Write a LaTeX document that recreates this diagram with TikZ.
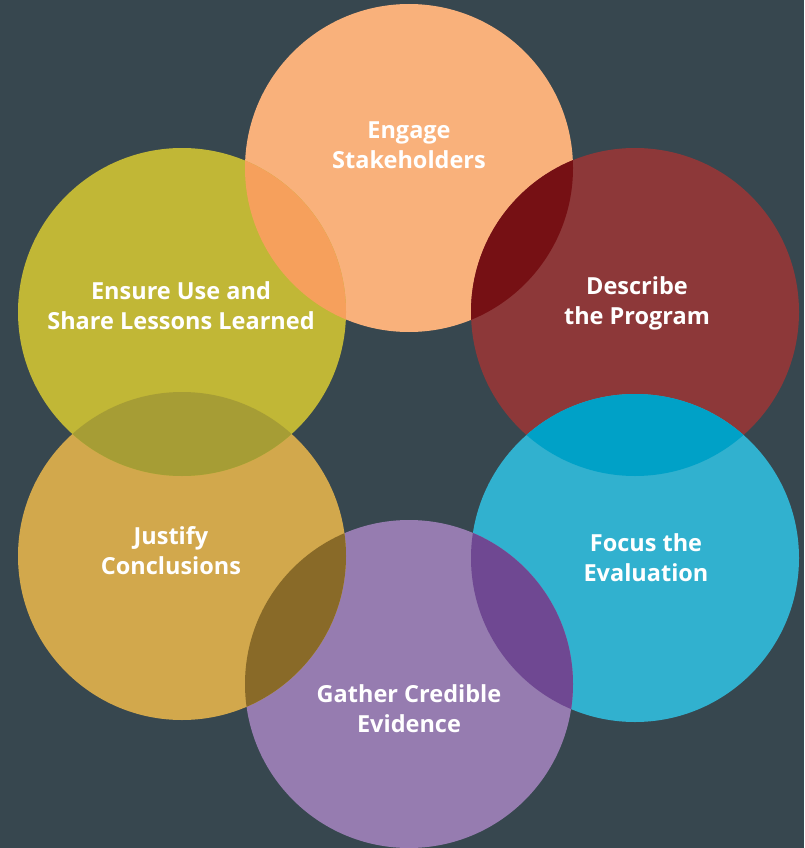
\documentclass[tikz,border=0pt]{standalone}
\usepackage{fontspec}
\setmainfont{Open Sans}
\definecolor{bg}{HTML}{37474F}
\definecolor{cOrange}{HTML}{F9B17B}
\definecolor{cRed}{HTML}{8D3839}
\definecolor{cCyan}{HTML}{31B1CF}
\definecolor{cPurple}{HTML}{967CB0}
\definecolor{cGold}{HTML}{D2A84C}
\definecolor{cOlive}{HTML}{C1B736}
\definecolor{oOrangeOlive}{HTML}{F6A05C}
\definecolor{oOrangeRed}{HTML}{761014}
\definecolor{oRedCyan}{HTML}{00A1C7}
\definecolor{oCyanPurple}{HTML}{6F4892}
\definecolor{oPurpleGold}{HTML}{896A28}
\definecolor{oGoldOlive}{HTML}{A69D35}
\tikzset{
  disc/.style={circle, inner sep=0pt, minimum size=328pt, fill=#1},
  label/.style={text=white, align=center, font=\fontsize{23.5}{30}\selectfont\bfseries, inner sep=0pt}
}
\begin{document}
\begin{tikzpicture}[x=1pt,y=-1pt]
\fill[bg] (0,0) rectangle (804,848);
\useasboundingbox (0,0) rectangle (804,848);
\coordinate (pE) at (409,168);
\coordinate (pD) at (635,312);
\coordinate (pF) at (635,558);
\coordinate (pG) at (409,684);
\coordinate (pJ) at (182,556);
\coordinate (pU) at (182,312);
\node[disc=cOrange] (cE) at (pE) {};
\node[disc=cRed] (cD) at (pD) {};
\node[disc=cCyan] (cF) at (pF) {};
\node[disc=cPurple] (cG) at (pG) {};
\node[disc=cGold] (cJ) at (pJ) {};
\node[disc=cOlive] (cU) at (pU) {};
\begin{scope}\clip (pE) circle[radius=164pt]; \fill[oOrangeOlive] (pU) circle[radius=164pt];\end{scope}
\begin{scope}\clip (pE) circle[radius=164pt]; \fill[oOrangeRed] (pD) circle[radius=164pt];\end{scope}
\begin{scope}\clip (pD) circle[radius=164pt]; \fill[oRedCyan] (pF) circle[radius=164pt];\end{scope}
\begin{scope}\clip (pF) circle[radius=164pt]; \fill[oCyanPurple] (pG) circle[radius=164pt];\end{scope}
\begin{scope}\clip (pG) circle[radius=164pt]; \fill[oPurpleGold] (pJ) circle[radius=164pt];\end{scope}
\begin{scope}\clip (pJ) circle[radius=164pt]; \fill[oGoldOlive] (pU) circle[radius=164pt];\end{scope}
\node[label] (tE) at (409,145) {Engage\\Stakeholders};
\node[label] (tD) at (637,303) {Describe\\the Program};
\node[label] (tF) at (646,558) {Focus the\\Evaluation};
\node[label] (tG) at (409,709) {Gather Credible\\Evidence};
\node[label] (tJ) at (171,551) {Justify\\Conclusions};
\node[label] (tU) at (181,306) {Ensure Use and\\Share Lessons Learned};
\end{tikzpicture}
\end{document}
